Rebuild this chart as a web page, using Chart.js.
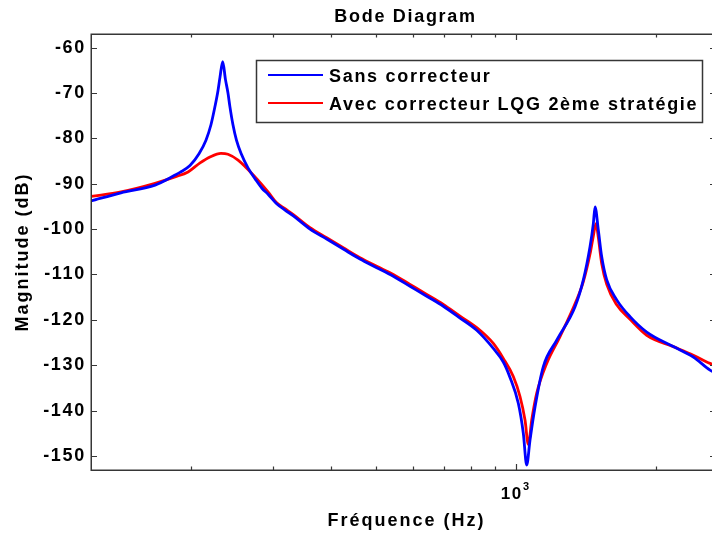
<!DOCTYPE html>
<html>
<head>
<meta charset="utf-8">
<script src="https://cdn.jsdelivr.net/npm/chart.js@4/dist/chart.umd.min.js"></script>
<style>
html,body{margin:0;padding:0;overflow:hidden;background:#fff;width:712px;height:533px;}
#wrap{width:716px;height:533px;}
</style>
</head>
<body>
<div id="wrap"><canvas id="c" width="716" height="533"></canvas></div>
<script>
const titleText = "Bode Diagram";
const xTitle = "Fréquence (Hz)";
const yTitle = "Magnitude (dB)";
const seriesNames = ["Sans correcteur", "Avec correcteur LQG 2ème stratégie"];
const seriesColors = ["#0000ff", "#ff0000"];

const freqBlue = [121.9, 141.4, 167.4, 184.8, 189.4, 199.0, 208.1, 215.4, 220.8, 225.2, 228.6, 230.9, 234.0, 237.2, 240.2, 242.5, 246.2, 250.5, 256.2, 265.2, 275.9, 284.2, 292.9, 305.7, 318.6, 332.0, 360.6, 391.6, 425.1, 461.8, 501.7, 544.6, 591.6, 642.7, 697.7, 758.0, 823.3, 893.7, 939.0, 970.7, 1011.4, 1036.8, 1054.4, 1071.8, 1098.7, 1144.8, 1223.3, 1339.5, 1395.6, 1442.6, 1466.5, 1478.9, 1503.1, 1528.6, 1567.1, 1646.5, 1758.8, 1910.1, 2179, 2406, 2613.7, 2692];
const magBlue = [-93.8, -92.0, -90.3, -88.1, -87.5, -86.0, -83.4, -80.4, -77.0, -73.0, -69.5, -66.5, -63.1, -67.0, -70.0, -73.0, -77.0, -80.4, -83.3, -86.5, -89.2, -91.0, -92.3, -94.4, -95.8, -97.1, -100.0, -102.2, -104.4, -106.6, -108.5, -110.4, -112.6, -114.8, -117.0, -119.6, -122.3, -126.3, -129.3, -132.7, -138.4, -145.0, -152.0, -146.5, -139.2, -130.3, -124.5, -117.1, -111.2, -103.9, -98.8, -95.1, -100.2, -106.1, -111.2, -115.6, -119.3, -122.7, -125.9, -128.2, -131.1, -131.8];

const freqRed = [121.9, 141.4, 167.4, 184.8, 197.1, 209.2, 219.7, 232.0, 240.2, 252.5, 274.6, 292.9, 305.7, 318.6, 332.0, 360.6, 391.6, 425.1, 461.8, 501.7, 544.6, 591.6, 642.7, 697.7, 758.0, 823.3, 893.7, 939.0, 986.7, 1020, 1045.6, 1062.9, 1080.9, 1107.8, 1164.1, 1243.4, 1350.5, 1395.6, 1442.6, 1466.5, 1486, 1503.1, 1528.6, 1567.1, 1646.5, 1758.8, 1910.1, 2179, 2406, 2613.7, 2692];
const magRed = [-92.8, -91.8, -89.9, -88.5, -87.4, -85.4, -84.1, -83.3, -83.5, -84.8, -88.5, -91.8, -94.2, -95.5, -96.8, -99.7, -101.9, -104.1, -106.3, -108.2, -110.0, -112.2, -114.4, -116.6, -119.2, -121.7, -125.2, -128.5, -132.5, -136.9, -142.1, -147.5, -142.1, -136.2, -129.6, -123.7, -115.6, -111.6, -105.5, -101.5, -98.8, -101.8, -107.6, -112.2, -116.7, -119.9, -123.4, -125.9, -127.8, -129.6, -130.1];

const yTicks = [-60, -70, -80, -90, -100, -110, -120, -130, -140, -150];
const xMajorTicks = [1000];
const xMinorTicks = [200, 300, 400, 500, 600, 700, 800, 900, 2000];
const xMin = 121.9, xMax = 2692, yMin = -153.1, yMax = -57.0;

const FONT = "'Liberation Sans', Arial, sans-serif";
const SPACING = '1.7px';

function toXY(fs, ms){ return fs.map((f,i)=>({x:f, y:ms[i]})); }

const bodePlugin = {
  id: 'bode',
  beforeDraw(chart){
    const ctx = chart.ctx;
    ctx.letterSpacing = SPACING;
    ctx.save();
    ctx.fillStyle = '#fff';
    ctx.fillRect(0,0,chart.width,chart.height);
    ctx.restore();
  },
  afterDraw(chart){
    const ctx = chart.ctx;
    const a = chart.chartArea;
    const xs = chart.scales.x, ys = chart.scales.y;
    ctx.save();
    ctx.letterSpacing = SPACING;
    // axes box
    ctx.strokeStyle = '#363636';
    ctx.lineWidth = 1.5;
    ctx.strokeRect(a.left+0.25, a.top+0.25, a.right-a.left, a.bottom-a.top);
    // inward ticks
    ctx.lineWidth = 1.2;
    ctx.beginPath();
    ys.ticks.forEach(t=>{
      const y = Math.round(ys.getPixelForValue(t.value))+0.5;
      ctx.moveTo(a.left, y); ctx.lineTo(a.left+6, y);
      ctx.moveTo(a.right, y); ctx.lineTo(a.right-6, y);
    });
    xs.ticks.forEach(t=>{
      const x = Math.round(xs.getPixelForValue(t.value))+0.5;
      const len = xMajorTicks.includes(t.value) ? 6 : 3.5;
      ctx.moveTo(x, a.bottom); ctx.lineTo(x, a.bottom-len);
      ctx.moveTo(x, a.top); ctx.lineTo(x, a.top+len);
    });
    ctx.stroke();
    // x major labels 10^3
    ctx.fillStyle = '#000';
    xMajorTicks.forEach(v=>{
      const x = xs.getPixelForValue(v);
      const exp = Math.round(Math.log10(v));
      ctx.font = "bold 17px " + FONT;
      ctx.textAlign = 'right';
      ctx.textBaseline = 'alphabetic';
      ctx.fillText('10', x+7, 499);
      ctx.font = "bold 11px " + FONT;
      ctx.textAlign = 'left';
      ctx.fillText(String(exp), x+7, 490);
    });
    // title
    ctx.font = "bold 18px " + FONT;
    ctx.textAlign = 'center';
    ctx.textBaseline = 'middle';
    ctx.fillText(titleText, (a.left+a.right)/2 + 2, 17);
    // axis titles
    ctx.letterSpacing = '2px';
    ctx.fillText(xTitle, (a.left+a.right)/2 + 3, 521);
    ctx.save();
    ctx.translate(23, (a.top+a.bottom)/2);
    ctx.rotate(-Math.PI/2);
    ctx.fillText(yTitle, 0, 0);
    ctx.restore();
    ctx.letterSpacing = SPACING;
    // legend
    const bx = 256.5, by = 60.5, bw = 446, bh = 62;
    ctx.fillStyle = '#fff';
    ctx.fillRect(bx, by, bw, bh);
    ctx.strokeStyle = '#363636';
    ctx.lineWidth = 1.5;
    ctx.strokeRect(bx, by, bw, bh);
    const rows = [75, 103];
    chart.data.datasets.forEach((ds,i)=>{
      const y = rows[i];
      ctx.strokeStyle = ds.borderColor;
      ctx.lineWidth = 2;
      ctx.beginPath();
      ctx.moveTo(268, y); ctx.lineTo(323, y);
      ctx.stroke();
      ctx.fillStyle = '#000';
      ctx.font = "bold 18px " + FONT;
      ctx.textAlign = 'left';
      ctx.textBaseline = 'middle';
      ctx.fillText(ds.label, 329, y+2);
    });
    ctx.restore();
  }
};

new Chart(document.getElementById('c').getContext('2d'), {
  type: 'line',
  data: {
    datasets: [
      {label: seriesNames[0], data: toXY(freqBlue, magBlue), borderColor: seriesColors[0], borderWidth: 2.8, pointRadius: 0, fill: false, cubicInterpolationMode: 'monotone'},
      {label: seriesNames[1], data: toXY(freqRed, magRed), borderColor: seriesColors[1], borderWidth: 2.8, pointRadius: 0, fill: false, cubicInterpolationMode: 'monotone'}
    ]
  },
  options: {
    responsive: false,
    animation: false,
    devicePixelRatio: 1,
    layout: {padding: {top: 34, left: 0, right: 0, bottom: 0}},
    plugins: {legend: {display: false}, title: {display: false}, tooltip: {enabled: false}},
    scales: {
      x: {
        type: 'logarithmic', min: xMin, max: xMax,
        afterBuildTicks: s => { s.ticks = xMinorTicks.concat(xMajorTicks).sort((p,q)=>p-q).map(v=>({value:v})); },
        afterFit: s => { s.height = 63; },
        ticks: {display: false},
        grid: {display: false},
        border: {display: false}
      },
      y: {
        type: 'linear', min: yMin, max: yMax,
        afterBuildTicks: s => { s.ticks = yTicks.map(v=>({value:v})); },
        afterFit: s => { s.width = 91; },
        ticks: {color: '#000', padding: 5, font: {family: FONT, size: 18, weight: 'bold'}, callback: v => String(v)},
        grid: {drawOnChartArea: false, drawTicks: false},
        border: {display: false}
      }
    }
  },
  plugins: [bodePlugin]
});
</script>
</body>
</html>
